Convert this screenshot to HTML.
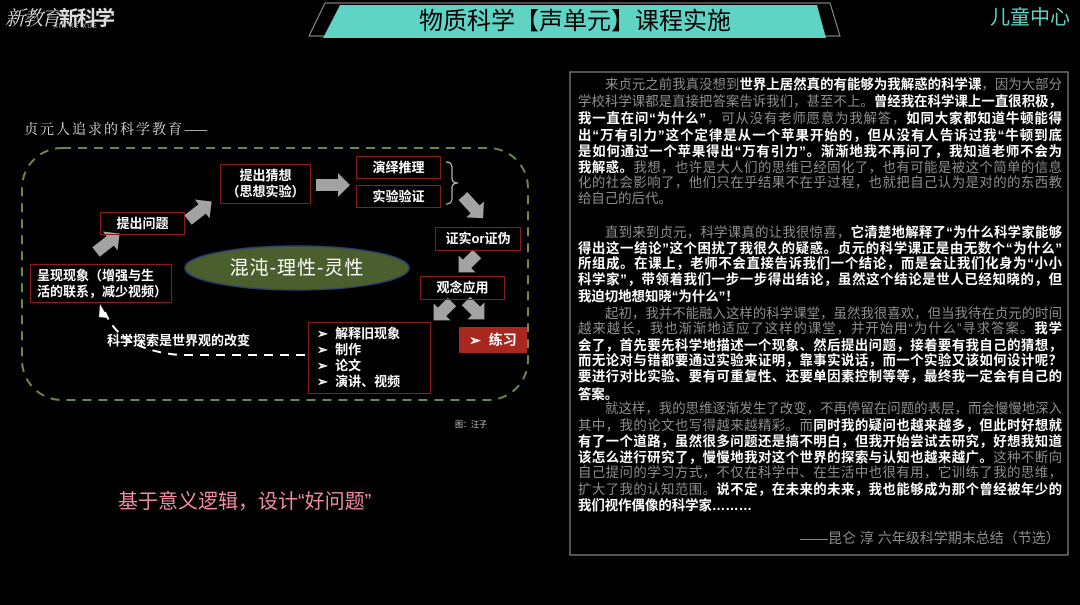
<!DOCTYPE html>
<html><head><meta charset="utf-8">
<style>
html,body{margin:0;padding:0;background:#000;}
body{width:1080px;height:605px;position:relative;overflow:hidden;font-family:"Liberation Sans","Noto Sans CJK SC",sans-serif;color:#fff;}
.a{position:absolute;white-space:nowrap;}
.box{position:absolute;border:1.5px solid #8b1a1a;box-sizing:border-box;color:#fff;font-weight:bold;font-size:13px;display:flex;align-items:center;justify-content:center;text-align:center;line-height:16px;}
.tx{position:absolute;left:578px;width:484px;font-size:13.4px;line-height:16px;height:16px;text-align:justify;text-align-last:justify;white-space:nowrap;overflow:hidden;}
.tx.s{text-align-last:left;}
.g{color:#8e8e8e;}
.w{color:#fff;font-weight:bold;}
.i{padding-left:27px;}
</style></head><body>
<svg class="a" style="left:0;top:0" width="1080" height="605">
<polygon points="325,3 830,3 840,36 309,36" fill="none" stroke="#9a9a9a" stroke-width="1"/>
<polygon points="340,5 817,5 826,38 323,38" fill="#5fd3c4"/>
<rect x="22" y="148" width="506" height="252" rx="40" ry="40" fill="none" stroke="#6a8a4a" stroke-width="2" stroke-dasharray="9,7"/>
<ellipse cx="297" cy="268" rx="112" ry="22" fill="#4b5f2e" stroke="#2b3f6e" stroke-width="1.5"/>
<g fill="#a3a3a3">
<polygon points="0,-6 18,-6 18,-12 30,0 18,12 18,6 0,6" transform="translate(96,252) rotate(-38)"/>
<polygon points="0,-6 18,-6 18,-12 30,0 18,12 18,6 0,6" transform="translate(188,220) rotate(-38)"/>
<polygon points="0,-6 22,-6 22,-12 34,0 22,12 22,6 0,6" transform="translate(316,185)"/>
<polygon points="0,-6 18,-6 18,-12 30,0 18,12 18,6 0,6" transform="translate(463,196) rotate(48)"/>
<polygon points="0,-6 14,-6 14,-12 26,0 14,12 14,6 0,6" transform="translate(477,254) rotate(135)"/>
<polygon points="0,-6 14,-6 14,-12 26,0 14,12 14,6 0,6" transform="translate(452,302) rotate(135)"/>
<polygon points="0,-6 14,-6 14,-12 26,0 14,12 14,6 0,6" transform="translate(466,301) rotate(45)"/>
</g>
<path d="M446,162 Q452,162 452,168 V178 Q452,183 458,183 Q452,183 452,188 V198 Q452,204 446,204" fill="none" stroke="#bbb" stroke-width="1.2"/>
<path d="M305,355 L180,355 Q120,350 105,312" fill="none" stroke="#fff" stroke-width="2" stroke-dasharray="9,7"/>
<polygon points="100,304 108,318 99,317" fill="#fff"/>
<rect x="570" y="72" width="498" height="483" fill="none" stroke="#8a8a8a" stroke-width="1.2"/>
</svg>

<div class="a" style="left:5px;top:2px;font-size:20px;font-style:italic;font-family:'Noto Serif CJK SC',serif;color:#ddd;letter-spacing:-2px">新教育<span style="font-style:normal;font-family:'Noto Sans CJK SC';font-weight:bold">新科学</span></div>
<div class="a" style="left:54px;top:24px;font-size:6px;color:#ccc;letter-spacing:1px">XIN KE XUE</div>
<div class="a" style="left:330px;top:6px;width:490px;text-align:center;font-size:24px;color:#000;line-height:32px">物质科学【声单元】课程实施</div>
<div class="a" style="left:990px;top:5px;font-size:20px;color:#5fd3c4;line-height:26px">儿童中心</div>

<div class="a" style="left:24px;top:119px;font-size:14px;letter-spacing:2px;color:#ddd;font-family:'Noto Serif CJK SC','Liberation Serif',serif">贞元人追求的科学教育——</div>

<div class="box" style="left:30px;top:264px;width:142px;height:39px;text-align:left;justify-content:flex-start;padding-left:6px">呈现现象（增强与生<br>活的联系，减少视频）</div>
<div class="box" style="left:100px;top:212px;width:85px;height:23px">提出问题</div>
<div class="box" style="left:220px;top:164px;width:91px;height:40px">提出猜想<br>（思想实验）</div>
<div class="box" style="left:356px;top:156px;width:85px;height:23px">演绎推理</div>
<div class="box" style="left:356px;top:185px;width:85px;height:23px">实验验证</div>
<div class="box" style="left:435px;top:227px;width:86px;height:24px">证实or证伪</div>
<div class="box" style="left:420px;top:276px;width:85px;height:24px">观念应用</div>
<div class="box" style="left:308px;top:322px;width:123px;height:72px;display:block;text-align:left;padding:3px 0 0 8px;line-height:16px">➢&nbsp;&nbsp;解释旧现象<br>➢&nbsp;&nbsp;制作<br>➢&nbsp;&nbsp;论文<br>➢&nbsp;&nbsp;演讲、视频</div>
<div class="box" style="left:459px;top:327px;width:68px;height:26px;background:#a8281f;border-color:#a8281f;font-size:14px">➢&nbsp;&nbsp;练习</div>
<div class="a" style="left:185px;top:256px;width:224px;text-align:center;font-size:19px;letter-spacing:1px;line-height:26px">混沌-理性-灵性</div>
<div class="a" style="left:107px;top:332px;font-size:13px;font-weight:bold;line-height:18px">科学探索是世界观的改变</div>
<div class="a" style="left:455px;top:419px;font-size:8px;color:#ccc">图：汪子</div>
<div class="a" style="left:118px;top:489px;font-size:20px;color:#f08ca0;line-height:26px">基于意义逻辑，设计“好问题”</div>

<div class="tx i" style="top:77px;width:457px"><span class="g">来贞元之前我真没想到</span><span class="w">世界上居然真的有能够为我解惑的科学课</span><span class="g">，因为大部分</span></div>
<div class="tx" style="top:94px"><span class="g">学校科学课都是直接把答案告诉我们，甚至不上。</span><span class="w">曾经我在科学课上一直很积极，</span></div>
<div class="tx" style="top:111px"><span class="w">我一直在问“为什么”</span><span class="g">，可从没有老师愿意为我解答，</span><span class="w">如同大家都知道牛顿能得</span></div>
<div class="tx" style="top:128px"><span class="w">出“万有引力”这个定律是从一个苹果开始的，但从没有人告诉过我“牛顿到底</span></div>
<div class="tx" style="top:144px"><span class="w">是如何通过一个苹果得出“万有引力”。渐渐地我不再问了，我知道老师不会为</span></div>
<div class="tx" style="top:160px"><span class="w">我解惑。</span><span class="g">我想，也许是大人们的思维已经固化了，也有可能是被这个简单的信息</span></div>
<div class="tx" style="top:175px"><span class="g">化的社会影响了，他们只在乎结果不在乎过程，也就把自己认为是对的的东西教</span></div>
<div class="tx s" style="top:191px"><span class="g">给自己的后代。</span></div>
<div class="tx i" style="top:225px;width:457px"><span class="g">直到来到贞元，科学课真的让我很惊喜，</span><span class="w">它清楚地解释了“为什么科学家能够</span></div>
<div class="tx" style="top:241px"><span class="w">得出这一结论”这个困扰了我很久的疑惑。贞元的科学课正是由无数个“为什么”</span></div>
<div class="tx" style="top:256px"><span class="w">所组成。在课上，老师不会直接告诉我们一个结论，而是会让我们化身为“小小</span></div>
<div class="tx" style="top:272px"><span class="w">科学家”，带领着我们一步一步得出结论，虽然这个结论是世人已经知晓的，但</span></div>
<div class="tx s" style="top:289px"><span class="w">我迫切地想知晓“为什么”！</span></div>
<div class="tx i" style="top:306px;width:457px"><span class="g">起初，我并不能融入这样的科学课堂，虽然我很喜欢，但当我待在贞元的时间</span></div>
<div class="tx" style="top:321px"><span class="g">越来越长，我也渐渐地适应了这样的课堂，并开始用“为什么”寻求答案。</span><span class="w">我学</span></div>
<div class="tx" style="top:338px"><span class="w">会了，首先要先科学地描述一个现象、然后提出问题，接着要有我自己的猜想，</span></div>
<div class="tx" style="top:353px"><span class="w">而无论对与错都要通过实验来证明，靠事实说话，而一个实验又该如何设计呢？</span></div>
<div class="tx" style="top:369px"><span class="w">要进行对比实验、要有可重复性、还要单因素控制等等，最终我一定会有自己的</span></div>
<div class="tx s" style="top:387px"><span class="w">答案。</span></div>
<div class="tx i" style="top:401px;width:457px"><span class="g">就这样，我的思维逐渐发生了改变，不再停留在问题的表层，而会慢慢地深入</span></div>
<div class="tx" style="top:418px"><span class="g">其中，我的论文也写得越来越精彩。而</span><span class="w">同时我的疑问也越来越多，但此时好想就</span></div>
<div class="tx" style="top:434px"><span class="w">有了一个道路，虽然很多问题还是搞不明白，但我开始尝试去研究，好想我知道</span></div>
<div class="tx" style="top:450px"><span class="w">该怎么进行研究了，慢慢地我对这个世界的探索与认知也越来越广。</span><span class="g">这种不断向</span></div>
<div class="tx" style="top:465px"><span class="g">自己提问的学习方式，不仅在科学中、在生活中也很有用，它训练了我的思维，</span></div>
<div class="tx" style="top:482px"><span class="g">扩大了我的认知范围。</span><span class="w">说不定，在未来的未来，我也能够成为那个曾经被年少的</span></div>
<div class="tx s" style="top:498px"><span class="w">我们视作偶像的科学家………</span></div>
<div class="a" style="left:800px;top:530px;width:256px;text-align:right;font-size:14px;line-height:16px;color:#8e8e8e">——昆仑 淳 六年级科学期末总结（节选）</div>
</body></html>
